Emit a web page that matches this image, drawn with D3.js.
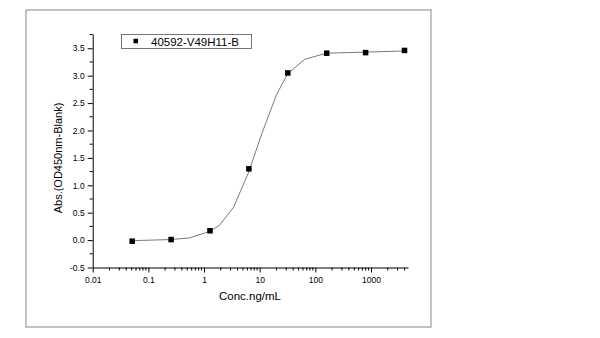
<!DOCTYPE html>
<html>
<head>
<meta charset="utf-8">
<script src="https://cdn.jsdelivr.net/npm/d3@7"></script>
<style>
  body { margin: 0; background: #fff; }
  svg { font-family: Arial, "Liberation Sans", sans-serif; }
  .axis path, .axis line { stroke: #000; }
</style>
</head>
<body>
<svg id="elisa" width="600" height="338"></svg>
<script>
// measured points (5-fold dilutions)
var conc = [0.0512, 0.256, 1.28, 6.4, 32, 160, 800, 4000]
var absVals = [-0.02, 0.01, 0.17, 1.30, 3.05, 3.41, 3.42, 3.46]

// fitted curve, vertices
var fitConc = [0.0512, 0.256, 0.55, 1.28, 1.9, 3.4, 6.4, 11, 20, 32, 65, 160, 800, 4000]
var fitAbs = [-0.01, 0.01, 0.04, 0.16, 0.27, 0.60, 1.25, 1.95, 2.65, 3.04, 3.30, 3.41, 3.43, 3.45]

var seriesName = "40592-V49H11-B"
var xTicks = [0.01, 0.1, 1, 10, 100, 1000]
var yTicks = [-0.5, 0, 0.5, 1, 1.5, 2, 2.5, 3, 3.5]

var svg = d3.select("#elisa")

// outer frame
svg.append("rect")
    .attr("x", 26).attr("y", 10)
    .attr("width", 405).attr("height", 317)
    .attr("fill", "none")
    .attr("stroke", "#b4b4b4")
    .attr("stroke-width", 1.6)

var margin = {left: 92.7, top: 34, right: 408, bottom: 267.5}

var xScale = d3.scaleLog()
    .domain([0.01, 4620])
    .range([margin.left, margin.right])

var yScale = d3.scaleLinear()
    .domain([-0.5, 3.76])
    .range([margin.bottom, margin.top])

// minor ticks
var xMinor = []
for (var e = -2; e <= 3; e++) {
    for (var m = 2; m <= 9; m++) {
        var v = m * Math.pow(10, e)
        if (v < 4620) xMinor.push(v)
    }
}
var yMinor = d3.range(-0.25, 3.76, 0.5)

var xAxis = svg.append("g").attr("class", "axis")
    .attr("transform", "translate(0," + margin.bottom + ")")
    .call(d3.axisBottom(xScale).tickValues(xTicks).tickFormat(d => String(d)).tickSize(5).tickSizeOuter(0))
xAxis.selectAll("text").attr("font-size", 8.5).attr("dy", "0.9em").attr("font-family", "Arial, 'Liberation Sans', sans-serif")
xAxis.selectAll(".minor").data(xMinor).enter().append("line")
    .attr("x1", d => xScale(d)).attr("x2", d => xScale(d))
    .attr("y1", 0).attr("y2", 3).attr("stroke", "#000")

var yAxis = svg.append("g").attr("class", "axis")
    .attr("transform", "translate(" + margin.left + ",0)")
    .call(d3.axisLeft(yScale).tickValues(yTicks).tickFormat(d => d.toFixed(1)).tickSize(5).tickSizeOuter(0))
yAxis.selectAll("text").attr("font-size", 8.5).attr("x", -8).attr("font-family", "Arial, 'Liberation Sans', sans-serif")
yAxis.selectAll(".minor").data(yMinor).enter().append("line")
    .attr("x1", 0).attr("x2", -3)
    .attr("y1", d => yScale(d)).attr("y2", d => yScale(d)).attr("stroke", "#000")

// fit line
var fitData = fitConc.map((c, i) => [c, fitAbs[i]])
svg.append("path")
    .datum(fitData)
    .attr("fill", "none")
    .attr("stroke", "#7a7a7a")
    .attr("stroke-width", 1)
    .attr("d", d3.line().x(d => xScale(d[0])).y(d => yScale(d[1])))

// markers
var ms = 5.5
svg.selectAll(".pt")
    .data(conc)
    .enter()
    .append("rect")
      .attr("x", (d, i) => xScale(d) - ms / 2)
      .attr("y", (d, i) => yScale(absVals[i]) - ms / 2)
      .attr("width", ms).attr("height", ms)
      .attr("fill", "#000")

// legend
svg.append("rect")
    .attr("x", 121.5).attr("y", 34.5)
    .attr("width", 130).attr("height", 14)
    .attr("fill", "#fff").attr("stroke", "#555").attr("stroke-width", 0.8)
svg.append("rect")
    .attr("x", 133.5).attr("y", 38.8)
    .attr("width", 4.5).attr("height", 4.5)
    .attr("fill", "#000")
svg.append("text")
    .attr("x", 151).attr("y", 45.5)
    .attr("font-size", 11.5)
    .text(seriesName)

// axis titles
svg.append("text")
    .attr("x", 250).attr("y", 300)
    .attr("text-anchor", "middle")
    .attr("font-size", 11.5)
    .text("Conc.ng/mL")

svg.append("text")
    .attr("transform", "translate(62,158) rotate(-90)")
    .attr("text-anchor", "middle")
    .attr("font-size", 11)
    .text("Abs.(OD450nm-Blank)")
</script>
</body>
</html>
